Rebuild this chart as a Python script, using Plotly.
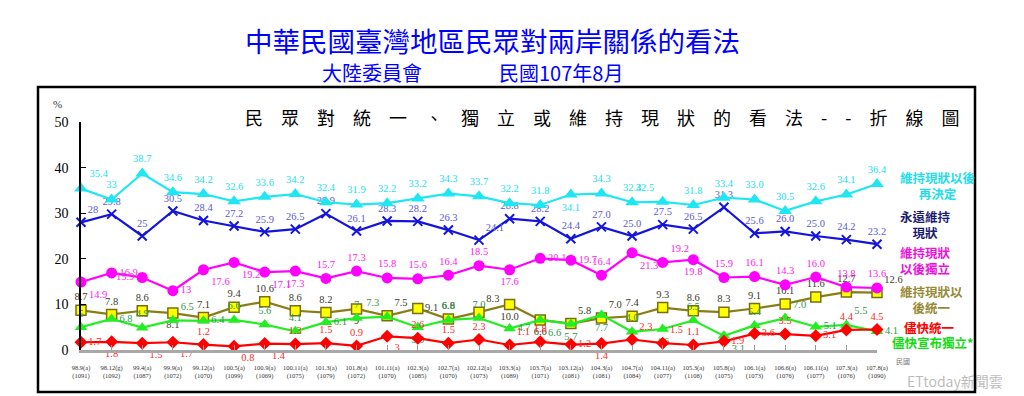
import plotly.graph_objects as go

# ---------------- data ----------------
periods = ["98.9(a)", "98.12(g)", "99.4(a)", "99.9(a)", "99.12(a)", "100.5(a)", "100.9(a)",
           "100.11(a)", "101.3(a)", "101.8(a)", "101.11(a)", "102.3(a)", "102.7(a)", "102.12(a)",
           "103.3(a)", "103.7(a)", "103.12(a)", "104.3(a)", "104.7(a)", "104.11(a)", "105.3(a)",
           "105.8(a)", "106.1(a)", "106.6(a)", "106.11(a)", "107.3(a)", "107.8(a)"]
samples = ["(1091)", "(1092)", "(1087)", "(1072)", "(1070)", "(1099)", "(1069)", "(1075)",
           "(1079)", "(1072)", "(1070)", "(1085)", "(1070)", "(1073)", "(1089)", "(1071)",
           "(1081)", "(1081)", "(1084)", "(1077)", "(1108)", "(1075)", "(1073)", "(1076)",
           "(1077)", "(1076)", "(1090)"]

later_decide = [35.4, 33, 38.7, 34.6, 34.2, 32.6, 33.6, 34.2, 32.4, 31.9, 32.2, 33.2, 34.3, 33.7,
                32.2, 31.8, 34.1, 34.3, 32.4, 32.5, 31.8, 33.4, 33.0, 30.5, 32.6, 34.1, 36.4]
status_quo_forever = [28, 29.8, 25, 30.5, 28.4, 27.2, 25.9, 26.5, 29.9, 26.1, 28.3, 28.2, 26.3, 24.1,
                      28.8, 28.2, 24.4, 27.0, 25.0, 27.5, 26.5, 31.3, 25.6, 26.0, 25.0, 24.2, 23.2]
later_independence = [14.9, 16.9, 15.9, 13, 17.6, 19.2, 17.1, 17.3, 15.7, 17.3, 15.8, 15.6, 16.4, 18.5,
                      17.6, 20.1, 19.7, 16.4, 21.3, 19.2, 19.8, 15.9, 16.1, 14.3, 16.0, 13.8, 13.6]
later_unification = [8.7, 7.8, 8.6, 8.1, 7.1, 9.4, 10.6, 8.6, 8.2, 9, 7.5, 9.1, 6.8, 8.3,
                     10.0, 6.6, 5.8, 7.0, 7.4, 9.3, 8.6, 8.3, 9.1, 10.1, 11.6, 12.7, 12.6]
asap_independence = [5, 6.8, 4.9, 6.5, 6.4, 6.6, 5.6, 4.1, 6.1, 7, 7.3, 5.0, 6.6, 7.0,
                     4.7, 6.6, 5.7, 7.7, 4.0, 4.6, 6.5, 3.1, 5.4, 7.0, 5.1, 5.5, 4.1]
asap_unification = [1.7, 1.8, 1.5, 1.7, 1.2, 0.8, 1.4, 1.3, 1.5, 0.9, 3, 2.6, 1.5, 2.3,
                    1.1, 1.8, 1.2, 1.4, 2.3, 1.5, 1.1, 1.9, 3.6, 3.5, 3.1, 4.4, 4.5]

y_ticks = [0, 10, 20, 30, 40, 50]

# ---------------- styles ----------------
W, H = 1024, 396
L, R, T, B = 81, 877, 122, 350
CJK = "Noto Sans CJK TC"
SERIF = "Liberation Serif"
decimal_from = 11  # labels from this point on are shown with one decimal


def px(x):
    return (x - L) / (R - L)


def py(y):
    return (B - y) / (B - T)


def labels(vals):
    return [f"{v:g}" if i < decimal_from else f"{v:.1f}" for i, v in enumerate(vals)]


TC, TR, TL = "top center", "top right", "top left"
BC, BR, MR, ML = "bottom center", "bottom right", "middle right", "middle left"

pos_cyan = [TR, TC, TC, TC, TC, TC, TC, TC, TC, TC, TC, TC, TC, TC,
            TC, TC, BC, TC, TC, TL, TC, TC, TC, TC, TC, TC, TC]
pos_navy = [TR, TC, TC, TC, TC, TC, TC, TC, TC, TC, TC, TC, TC, TR,
            TC, TC, TC, TC, TC, TC, TC, TC, TC, TC, TC, TC, TC]
pos_mag = [BR, MR, ML, MR, BR, BR, BR, BC, TC, TC, TC, TC, TC, TC,
           BC, MR, MR, TC, BR, TR, BC, TC, TC, TC, TC, TC, TC]
pos_olive = [TC, TC, TC, BC, TC, TC, TC, TC, TC, BC, TR, MR, TC, TR,
             BC, BC, TR, TR, TC, TC, TC, TC, TC, TC, TC, TC, TR]
pos_green = [TC, MR, TC, TR, MR, TC, TC, TC, MR, TC, TL, BC, TC, TC,
             MR, BR, BC, BC, TC, BC, TC, BR, TC, TR, MR, TR, MR]
pos_red = [MR, BC, BR, BR, TC, BR, BR, TC, TC, TC, BR, TC, TC, TC,
           TR, TC, MR, BC, TR, TR, TC, MR, MR, TC, MR, TC, TC]

x_idx = list(range(len(periods)))
ticktext = [f"{p}<br>{s}" for p, s in zip(periods, samples)]

series = [
    (later_unification, "#8a7d14", dict(symbol="square", size=10, color="#FFFF00",
                                        line=dict(color="#7a6e10", width=1.5)), "#3a3a2a", pos_olive),
    (asap_independence, "#22EE22", dict(symbol="triangle-up", size=11, color="#22EE22"), "#2f9a4a", pos_green),
    (asap_unification, "#FF0000", dict(symbol="diamond", size=10, color="#FF0000"), "#FF2a2a", pos_red),
    (later_independence, "#FF00FF", dict(symbol="circle", size=11, color="#FF00FF"), "#FF22EE", pos_mag),
    (status_quo_forever, "#1414DC", dict(symbol="x-thin-open", size=9, color="#1414DC",
                                         line=dict(color="#1414DC", width=2)), "#5a5ad0", pos_navy),
    (later_decide, "#1EE6F2", dict(symbol="triangle-up", size=12, color="#1EE6F2"), "#1EE0EE", pos_cyan),
]

fig = go.Figure()
for vals, lc, mk, tc, pos in series:
    fig.add_trace(go.Scatter(
        x=x_idx, y=vals, mode="lines+markers+text",
        line=dict(color=lc, width=2.2), marker=mk,
        text=labels(vals), textposition=pos,
        textfont=dict(family=SERIF, size=10.5, color=tc),
        cliponaxis=False, hoverinfo="skip",
    ))

annotations = []


def ann(text, x, y, size, color, family=CJK, xanchor="center", weight="normal"):
    annotations.append(dict(text=text, x=px(x), y=py(y), xref="paper", yref="paper",
                            xanchor=xanchor, yanchor="middle", showarrow=False,
                            font=dict(family=family, size=size, color=color, weight=weight)))


ann("中華民國臺灣地區民眾對兩岸關係的看法", 492, 40, 27.5, "#0000FF")
ann("大陸委員會", 372, 72, 20, "#0000FF")
ann("民國107年8月", 561, 72, 20, "#0000FF")
inner_title = "民眾對統一、獨立或維持現狀的看法--折線圖"
ann("\u3000".join(inner_title), 602, 117, 18, "#000000")
ann("%", 57, 104, 11, "#333333", family=SERIF)

ann("維持現狀以後<br>再決定", 898, 185, 12.5, "#22DDE8", xanchor="left", weight="bold")
ann("永遠維持<br>現狀", 898, 224, 12.5, "#1c1c70", xanchor="left", weight="bold")
ann("維持現狀<br>以後獨立", 898, 260, 12.5, "#EE11DD", xanchor="left", weight="bold")
ann("維持現狀以<br>後統一", 898, 299, 12.5, "#968a36", xanchor="left", weight="bold")
ann("儘快統一", 930, 327, 12.5, "#FF0000", weight="bold")
ann("儘快宣布獨立*", 932, 342, 12.5, "#11DD11", weight="bold")
ann("民國", 903, 361, 7, "#777777")
ann("ETtoday新聞雲", 955, 381, 14, "rgba(120,120,120,0.5)")

fig.update_layout(
    width=W, height=H, autosize=False,
    margin=dict(l=L, r=W - R, t=T, b=H - B, pad=0),
    paper_bgcolor="white", plot_bgcolor="white", showlegend=False,
    annotations=annotations,
    shapes=[dict(type="rect", xref="paper", yref="paper",
                 x0=px(38), x1=px(975), y0=py(392), y1=py(87),
                 line=dict(color="#000000", width=2.5), layer="below")],
    xaxis=dict(range=[0, len(periods) - 1], tickmode="array", tickvals=x_idx, ticktext=ticktext,
               tickangle=0, showline=True, linecolor="#a8a8a8", linewidth=3,
               ticks="inside", ticklen=5, tickcolor="#999999", tickwidth=1,
               tickfont=dict(family=SERIF, size=6.5, color="#333333"),
               ticklabelstandoff=9, showgrid=False, zeroline=False, fixedrange=True),
    yaxis=dict(range=[0, 50], tickmode="array", tickvals=y_ticks,
               showline=True, linecolor="#000000", linewidth=1.5,
               ticks="inside", ticklen=5, tickcolor="#000000",
               tickfont=dict(family=SERIF, size=14, color="#000000"),
               ticklabelstandoff=8, showgrid=False, zeroline=False, fixedrange=True),
)

fig.write_html("out.html", config={"displayModeBar": False},
               post_script="document.body.style.margin='0';document.body.style.overflow='hidden';")
